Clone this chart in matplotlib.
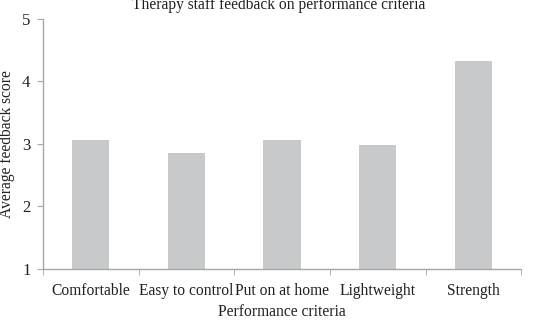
import matplotlib
matplotlib.use("Agg")
import matplotlib.pyplot as plt
import numpy as np

CATEGORIES = ["Comfortable", "Easy to control", "Put on at home", "Lightweight", "Strength"]
SCORES = [3.06, 2.86, 3.06, 2.99, 4.33]
Y_TICKS = [1, 2, 3, 4, 5]

plt.rcParams["font.family"] = ["Liberation Serif", "DejaVu Serif"]
SPINE = "#a6a6a6"
TEXT = "#231f20"

fig = plt.figure(figsize=(5.58, 3.22), dpi=100)
ax = fig.add_axes([0.077, 0.165, 0.857, 0.776])

x = np.arange(len(CATEGORIES))
ax.bar(x, [s - 1 for s in SCORES], bottom=1, width=0.39, color="#c8c9ca")

ax.set_xlim(-0.5, len(CATEGORIES) - 0.5)
ax.set_ylim(1, 5)
ax.set_yticks(Y_TICKS)
ax.set_yticklabels([str(t) for t in Y_TICKS], fontsize=12, color=TEXT)
ax.set_xticks(x)
ax.set_xticklabels(CATEGORIES, fontsize=11.2, color=TEXT)
ax.tick_params(axis="x", which="major", length=0, pad=10)
ax.set_xticks(np.arange(len(CATEGORIES) + 1) - 0.5, minor=True)
ax.tick_params(axis="x", which="minor", length=4, color=SPINE)
ax.tick_params(axis="y", length=4, color=SPINE, pad=5)

for side in ("top", "right"):
    ax.spines[side].set_visible(False)
for side in ("left", "bottom"):
    ax.spines[side].set_color(SPINE)
    ax.spines[side].set_linewidth(1.0)

ax.set_xlabel("Performance criteria", fontsize=11.2, color=TEXT)
ax.xaxis.set_label_coords(0.5, -0.142)
ax.set_ylabel("Average feedback score", fontsize=11.2, color=TEXT)
ax.yaxis.set_label_coords(-0.058, 0.5)
fig.text(0.5, 0.986, "Therapy staff feedback on performance criteria",
         ha="center", va="center", fontsize=11.2, color=TEXT)

fig.savefig("out.png", dpi=100)
